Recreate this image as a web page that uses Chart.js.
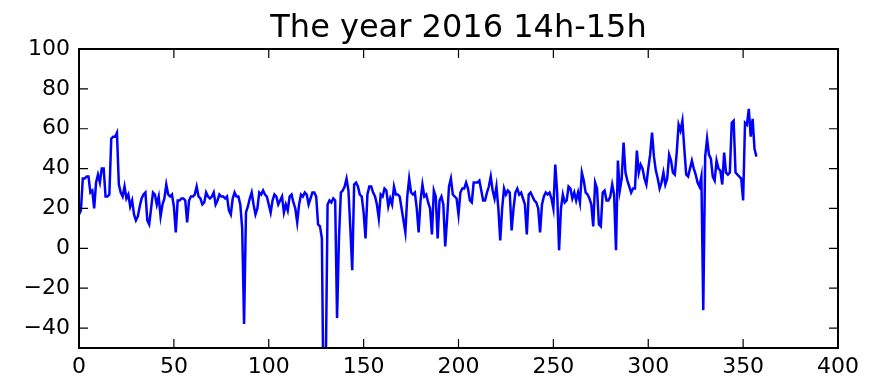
<!DOCTYPE html>
<html>
<head>
<meta charset="utf-8">
<script src="https://cdn.jsdelivr.net/npm/chart.js@4.4.1/dist/chart.umd.min.js"></script>
<style>
  html, body { margin: 0; padding: 0; background: #fff; }
</style>
</head>
<body>
<canvas id="chart" width="891" height="387"></canvas>
<script>
// ── Data ──────────────────────────────────────────────────────────────────────
const chartTitle = 'The year 2016 14h-15h'
const xTicks = [0, 50, 100, 150, 200, 250, 300, 350, 400]
const yTicks = [-40, -20, 0, 20, 40, 60, 80, 100]

// one value per day, index = day number
const dailyValues = [
    17, 19, 35, 35, 36, 36, 28, 29, 20, 33, 37, 33, 40, 40, 26, 26, 27, 55, 56, 56,
    58, 32, 28, 26, 31, 25, 27, 21, 24, 17, 14, 16, 21, 25, 27, 28, 14, 12, 20, 28,
    27, 22, 26, 16, 22, 25, 32, 27, 26, 27, 21, 8, 24, 24, 25, 25, 24, 13, 24, 26,
    26, 27, 31, 26, 25, 22, 23, 28, 26, 25, 26, 28, 22, 24, 27, 26, 26, 25, 26, 19,
    17, 25, 28, 26, 26, 22, 10, -38, 18, 21, 25, 28, 22, 17, 20, 28, 27, 29, 27, 26,
    22, 18, 24, 27, 26, 22, 24, 26, 18, 22, 19, 26, 27, 23, 20, 13, 22, 27, 26, 28,
    27, 22, 25, 28, 28, 26, 12, 11, 5, -90, -65, 22, 24, 23, 25, 24, -35, 5, 28, 29,
    31, 35, 29, 10, -11, 32, 33, 31, 27, 26, 18, 5, 27, 31, 31, 28, 26, 22, 15, 27,
    26, 30, 29, 21, 25, 22, 31, 27, 27, 26, 20, 14, 8, 26, 35, 28, 27, 28, 20, 8,
    24, 32, 26, 27, 23, 20, 7, 29, 26, 5, 24, 26, 22, 1, 15, 31, 35, 27, 26, 25,
    17, 28, 30, 30, 33, 30, 24, 23, 33, 33, 33, 34, 29, 24, 24, 28, 31, 36, 29, 25,
    31, 20, 4, 20, 30, 27, 29, 28, 9, 20, 28, 30, 27, 28, 25, 22, 7, 27, 28, 26,
    24, 23, 20, 8, 22, 26, 28, 27, 28, 25, 20, 42, 28, -1, 20, 27, 23, 24, 31, 30,
    25, 28, 24, 28, 23, 38, 34, 28, 27, 25, 22, 11, 33, 30, 12, 11, 28, 29, 24, 24,
    26, 32, 27, -1, 44, 29, 35, 53, 38, 34, 31, 28, 30, 30, 49, 38, 42, 40, 35, 32,
    40, 47, 58, 46, 39, 35, 30, 33, 38, 32, 35, 47, 44, 38, 37, 48, 62, 59, 64, 50,
    37, 36, 40, 44, 40, 37, 33, 31, 36, -31, 46, 55, 47, 45, 36, 34, 44, 40, 39, 32,
    48, 38, 37, 38, 63, 64, 38, 37, 36, 35, 24, 63, 62, 70, 56, 65, 50, 46,
]

// ── Defaults ─────────────────────────────────────────────────────────────────
Chart.defaults.font.family = "'DejaVu Sans', sans-serif"
Chart.defaults.font.size   = 22
Chart.defaults.color       = '#000'

const TICK_LEN = 9

// typographic minus for negative tick labels
const fmtTick = v => String(v).replace('-', '\u2212')

// Inward ticks on all four sides, the box frame and the title
const axesFrame = {
    id: 'axesFrame',
    afterDatasetsDraw(chart) {
        const { ctx, chartArea: a, scales: { x, y } } = chart
        ctx.save()
        ctx.strokeStyle = '#000'
        ctx.lineWidth = 1.2
        ctx.beginPath()
        xTicks.forEach(v => {
            const px = x.getPixelForValue(v)
            ctx.moveTo(px, a.bottom); ctx.lineTo(px, a.bottom - TICK_LEN)
            ctx.moveTo(px, a.top);    ctx.lineTo(px, a.top + TICK_LEN)
        })
        yTicks.forEach(v => {
            const py = y.getPixelForValue(v)
            ctx.moveTo(a.left, py);  ctx.lineTo(a.left + TICK_LEN, py)
            ctx.moveTo(a.right, py); ctx.lineTo(a.right - TICK_LEN, py)
        })
        ctx.stroke()

        ctx.lineWidth = 2
        ctx.strokeRect(a.left, a.top, a.width, a.height)

        ctx.fillStyle = '#000'
        ctx.font = "32px 'DejaVu Sans', sans-serif"
        ctx.textAlign = 'center'
        ctx.textBaseline = 'alphabetic'
        ctx.fillText(chartTitle, (a.left + a.right) / 2, 37)
        ctx.restore()
    },
}

new Chart(document.getElementById('chart'), {
    type: 'line',
    data: {
        datasets: [{
            data: dailyValues.map((v, i) => ({ x: i, y: v })),
            borderColor: '#0000ff',
            borderWidth: 2.5,
            pointRadius: 0,
            tension: 0,
            fill: false,
        }],
    },
    options: {
        responsive: false,
        animation: false,
        events: [],
        devicePixelRatio: 1,
        layout: { padding: { top: 49, right: 53, left: 0, bottom: 0 } },
        plugins: {
            legend: { display: false },
            tooltip: { enabled: false },
            title: { display: false },
        },
        scales: {
            x: {
                type: 'linear',
                min: 0,
                max: 400,
                afterBuildTicks: axis => { axis.ticks = xTicks.map(value => ({ value })) },
                afterFit: axis => { axis.height = 39 },
                grid: { display: false, drawTicks: false },
                border: { display: false },
                ticks: { padding: 6, maxRotation: 0, autoSkip: false, callback: fmtTick },
            },
            y: {
                min: -50,
                max: 100,
                afterBuildTicks: axis => { axis.ticks = yTicks.map(value => ({ value })) },
                afterFit: axis => { axis.width = 79 },
                grid: { display: false, drawTicks: false },
                border: { display: false },
                ticks: { padding: 9, callback: fmtTick },
            },
        },
    },
    plugins: [axesFrame],
})
</script>
</body>
</html>
